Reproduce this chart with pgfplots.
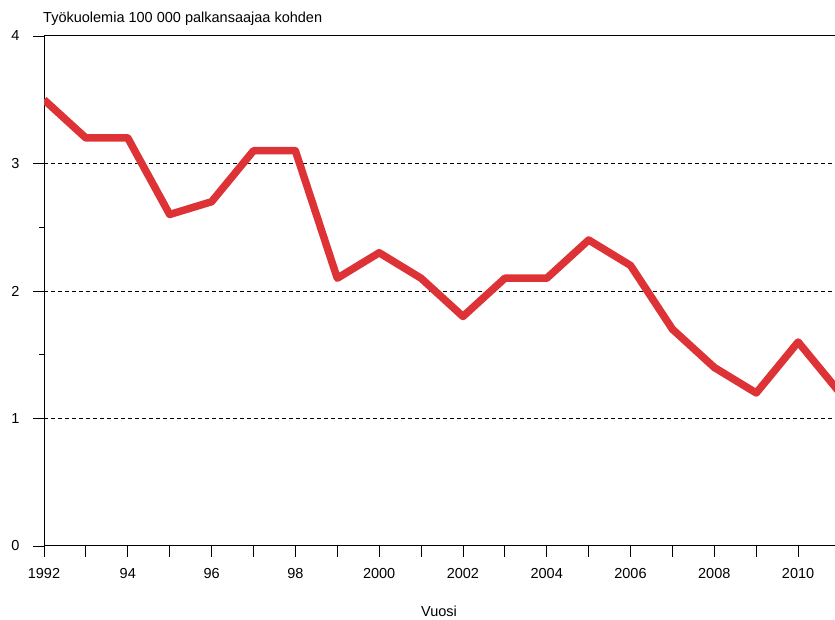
\documentclass[border=0pt]{standalone}
\usepackage{fontspec}
\setmainfont{Liberation Sans}
\usepackage{pgfplots}
\pgfplotsset{compat=1.18}
\definecolor{lred}{RGB}{221,51,54}
\begin{document}
\begin{tikzpicture}[x=1bp,y=1bp]
\path[use as bounding box] (0,0) rectangle (835,620);
\begin{axis}[
  at={(44bp,74bp)}, anchor=south west,
  scale only axis, width=791bp, height=510bp,
  xmin=1992, xmax=2010.88, ymin=0, ymax=4,
  axis x line*=bottom, axis y line*=left,
  axis line style={black, line width=1bp},
  xtick={1992,...,2010},
  xticklabels={1992,,94,,96,,98,,2000,,2002,,2004,,2006,,2008,,2010},
  ytick={1,2,3},
  extra y ticks={0,4},
  extra y tick style={grid=major, major grid style={solid, black, line width=1bp}},
  minor y tick num=1,
  tick align=outside,
  major tick length=11bp, minor tick length=5bp,
  tick style={black, line width=0.8bp},
  ymajorgrids, major grid style={black, dashed, line width=0.8bp, dash pattern=on 4bp off 3bp},
  tick label style={font=\fontsize{14.5bp}{16bp}\selectfont},
  /pgf/number format/assume math mode=true,
  yticklabel style={xshift=-10bp},
  xticklabel style={yshift=-8bp},
  clip=true,
]
\addplot[lred, line width=7.5bp, line join=round] coordinates {
(1992,3.5) (1993,3.2) (1994,3.2) (1995,2.6) (1996,2.7) (1997,3.1) (1998,3.1)
(1999,2.1) (2000,2.3) (2001,2.1) (2002,1.8) (2003,2.1) (2004,2.1) (2005,2.4)
(2006,2.2) (2007,1.7) (2008,1.4) (2009,1.2) (2010,1.6) (2011,1.2)
};
\end{axis}
\node[anchor=base west, inner sep=0pt, font=\fontsize{14.5bp}{17bp}\selectfont] at (43,597) {Työkuolemia 100 000 palkansaajaa kohden};
\node[anchor=base, inner sep=0pt, font=\fontsize{14.5bp}{16bp}\selectfont] at (439,3) {Vuosi};
\end{tikzpicture}
\end{document}
